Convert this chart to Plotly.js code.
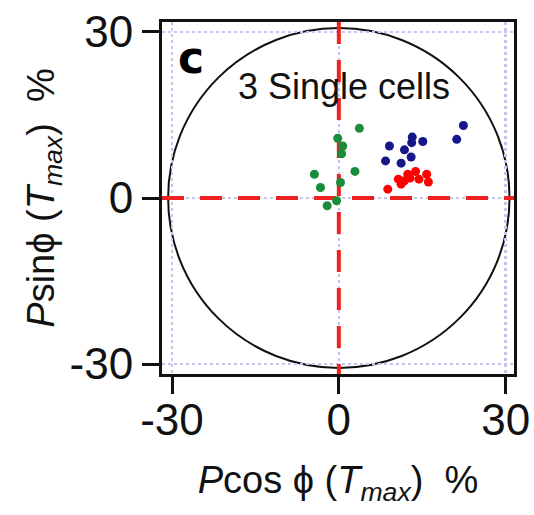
<!DOCTYPE html>
<html>
<head>
<meta charset="utf-8">
<script src="https://cdn.plot.ly/plotly-3.0.1.min.js"></script>
<style>html,body{margin:0;padding:0;background:#fff;}</style>
</head>
<body>
<div id="chart" style="width:534px;height:515px;"></div>
<script>
// Cell 1 (green)
const greenX = [3.7, -0.2, 0.7, 0.5, -4.4, 2.9, 0.3, -3.3, -0.4, -2.1];
const greenY = [12.6, 10.8, 9.4, 8.0, 4.3, 4.8, 2.8, 1.9, -0.5, -1.4];
// Cell 2 (navy)
const blueX = [22.4, 21.2, 13.2, 13.1, 15.1, 9.1, 11.8, 13.0, 8.4, 11.2];
const blueY = [13.1, 10.6, 11.0, 10.0, 10.2, 9.4, 8.7, 7.4, 6.7, 6.3];
// Cell 3 (red)
const redX = [8.8, 10.7, 11.2, 12.4, 12.8, 13.8, 14.4, 15.8, 16.1, 11.8];
const redY = [1.6, 3.4, 2.5, 4.3, 3.6, 4.8, 3.4, 4.3, 2.9, 3.1];

const tickVals = [-30, 0, 30];
const tickText = ['-30', '0', '30'];
const circleRadius = 30.7;
const xRange = [-31.8, 31.5];
const yRange = [-31.8, 31.8];

const FONT = 'Liberation Sans, Arial, Helvetica, sans-serif';

function series(x, y, color) {
  return {
    x: x, y: y, type: 'scatter', mode: 'markers',
    marker: {color: color, size: 9, line: {width: 0}},
    hoverinfo: 'x+y', showlegend: false, cliponaxis: false
  };
}

function refLine(x, y) {
  return {
    x: x, y: y, type: 'scatter', mode: 'lines',
    line: {color: '#ee2020', width: 4, dash: '22px,16px'},
    hoverinfo: 'skip', showlegend: false, cliponaxis: true
  };
}

const data = [
  refLine(xRange, [0, 0]),
  refLine([0, 0], [yRange[1], yRange[0]]),
  series(greenX, greenY, '#1a8c3a'),
  series(blueX, blueY, '#16168a'),
  series(redX, redY, '#ff0000')
];

const axisCommon = {
  tickmode: 'array', tickvals: tickVals, ticktext: tickText,
  ticks: 'outside', ticklen: 17, tickwidth: 3, tickcolor: '#111',
  showline: true, linecolor: '#111', linewidth: 3, mirror: true,
  showgrid: true, gridcolor: '#c4c4ec', gridwidth: 2.5, griddash: 'dot',
  zeroline: false, fixedrange: true, autorange: false,
  tickfont: {family: FONT, size: 44, color: '#111'}
};

const layout = {
  width: 534, height: 515,
  margin: {l: 162, r: 20, t: 22, b: 141, pad: 0},
  paper_bgcolor: '#fff', plot_bgcolor: '#fff',
  font: {family: FONT, color: '#111'},
  xaxis: Object.assign({}, axisCommon, {
    range: xRange,
    ticklabelstandoff: -12,
    title: {text: '<i>P</i>cos ϕ (<i>T</i><sub><i>max</i></sub>)&nbsp;&nbsp;%', font: {family: FONT, size: 38, color: '#111'}, standoff: 24}
  }),
  yaxis: Object.assign({}, axisCommon, {
    range: yRange,
    title: {text: '<i>P</i>sinϕ (<i>T</i><sub><i>max</i></sub>)&nbsp;&nbsp;%', font: {family: FONT, size: 38, color: '#111'}, standoff: 4}
  }),
  shapes: [
    {type: 'circle', xref: 'x', yref: 'y', x0: -circleRadius, x1: circleRadius, y0: -circleRadius, y1: circleRadius,
     line: {color: '#111', width: 2}, layer: 'below'}
  ],
  annotations: [
    {text: '<b>c</b>', xref: 'paper', yref: 'paper', x: 0.04, y: 0.9, xanchor: 'left', yanchor: 'middle',
     showarrow: false, font: {family: 'DejaVu Sans, Liberation Sans, sans-serif', size: 44, color: '#000'}},
    {text: '3 Single cells', xref: 'paper', yref: 'paper', x: 0.518, y: 0.818, xanchor: 'center', yanchor: 'middle',
     showarrow: false, font: {family: FONT, size: 36, color: '#111'}}
  ]
};

Plotly.newPlot('chart', data, layout, {displayModeBar: false, staticPlot: true});
</script>
</body>
</html>
